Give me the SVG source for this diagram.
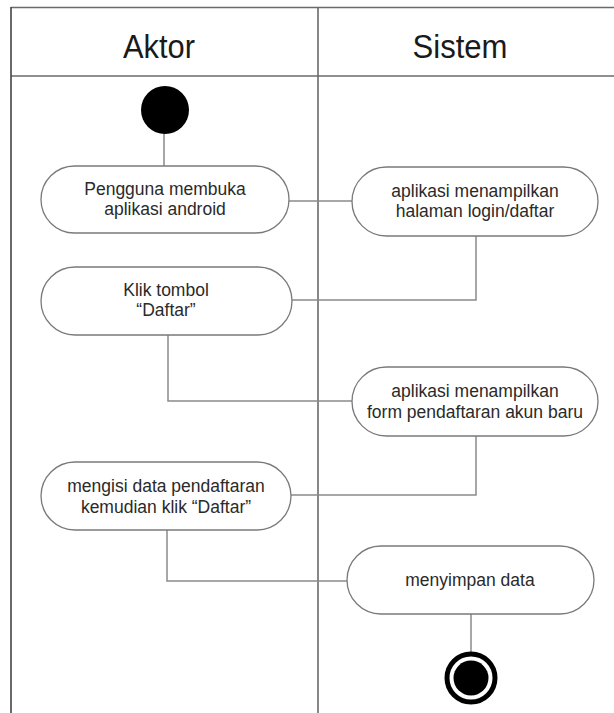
<svg xmlns="http://www.w3.org/2000/svg" width="614" height="713" viewBox="0 0 614 713">
  <style>
    .frame { stroke: #6a6a6a; stroke-width: 1.6; fill: none; }
    .wire { stroke: #8a8a8a; stroke-width: 1.5; fill: none; }
    .act { fill: #ffffff; stroke: #7a7a7a; stroke-width: 1.3; }
    .lbl { font-family: "Liberation Sans", Arial, sans-serif; font-size: 17.5px; fill: #2a2a2a; text-anchor: middle; }
    .head { font-family: "Liberation Sans", Arial, sans-serif; font-size: 33px; fill: #1a1a1a; text-anchor: middle; }
  </style>
  <rect width="614" height="713" fill="#ffffff"/>

  <!-- swimlane frame -->
  <g id="lanes">
    <line class="frame" x1="11" y1="7.5" x2="614" y2="7.5"/>
    <line class="frame" x1="11" y1="76" x2="614" y2="76"/>
    <line class="frame" x1="11" y1="7" x2="11" y2="713" style="stroke:#444"/>
    <line class="frame" x1="318" y1="7" x2="318" y2="713"/>
    <text class="head" x="159" y="58" textLength="72" lengthAdjust="spacingAndGlyphs">Aktor</text>
    <text class="head" x="460" y="58" textLength="95" lengthAdjust="spacingAndGlyphs">Sistem</text>
  </g>

  <!-- control flow -->
  <g id="connectors">
    <polyline class="wire" points="164,134 164,166"/>
    <polyline class="wire" points="289,201 352,201"/>
    <polyline class="wire" points="476,236 476,300 292,300"/>
    <polyline class="wire" points="168,335 168,401 352,401"/>
    <polyline class="wire" points="476,436 476,495 291,495"/>
    <polyline class="wire" points="167,530 167,581 347,581"/>
    <polyline class="wire" points="471,614 471,652"/>
  </g>

  <g id="start">
    <circle cx="165" cy="110" r="24" fill="#000000"/>
  </g>

  <g id="buka-aplikasi">
    <rect class="act" x="41" y="166" width="248" height="67" rx="33.5"/>
    <text class="lbl" x="165" y="195">Pengguna membuka</text>
    <text class="lbl" x="165" y="215">aplikasi android</text>
  </g>

  <g id="tampil-login">
    <rect class="act" x="352" y="167" width="246" height="69" rx="34.5"/>
    <text class="lbl" x="475" y="197">aplikasi menampilkan</text>
    <text class="lbl" x="475" y="217">halaman login/daftar</text>
  </g>

  <g id="klik-daftar">
    <rect class="act" x="41" y="267" width="251" height="68" rx="34"/>
    <text class="lbl" x="166" y="296">Klik tombol</text>
    <text class="lbl" x="166" y="316">“Daftar”</text>
  </g>

  <g id="tampil-form">
    <rect class="act" x="352" y="367" width="246" height="69" rx="34.5"/>
    <text class="lbl" x="475" y="397">aplikasi menampilkan</text>
    <text class="lbl" x="475" y="418">form pendaftaran akun baru</text>
  </g>

  <g id="isi-data">
    <rect class="act" x="41" y="462" width="250" height="68" rx="34"/>
    <text class="lbl" x="166" y="492">mengisi data pendaftaran</text>
    <text class="lbl" x="166" y="513">kemudian klik “Daftar”</text>
  </g>

  <g id="simpan-data">
    <rect class="act" x="347" y="546" width="247" height="68" rx="34"/>
    <text class="lbl" x="470" y="586">menyimpan data</text>
  </g>

  <g id="end">
    <circle cx="471" cy="678" r="24" fill="none" stroke="#000000" stroke-width="5"/>
    <circle cx="471" cy="678" r="17.5" fill="#000000"/>
  </g>
</svg>
